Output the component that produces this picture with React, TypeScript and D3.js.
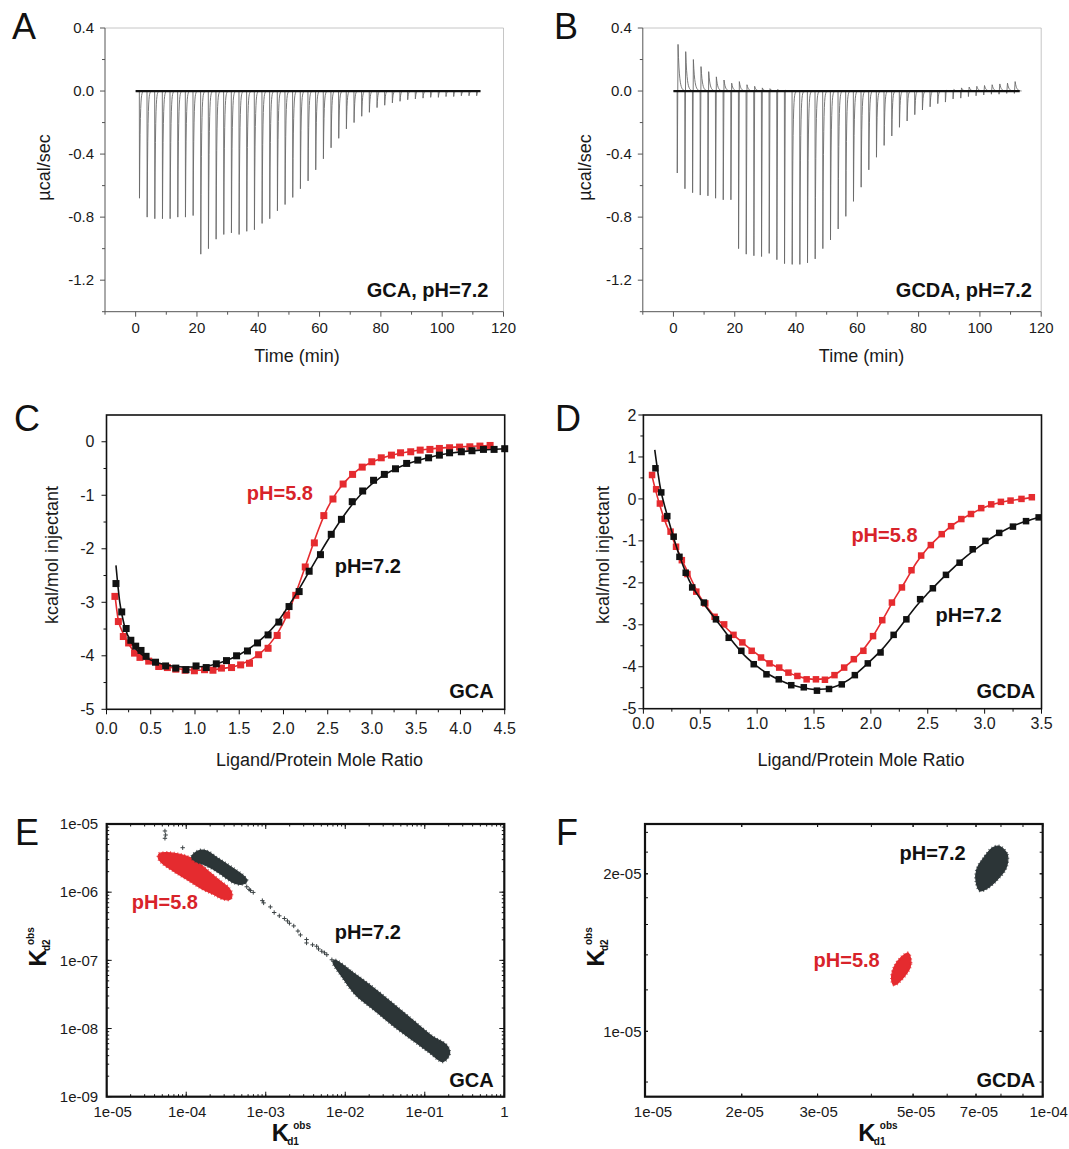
import React from "react";
import * as d3 from "d3";

const W = 1069;
const H = 1149;
const FONT = "'Liberation Sans', Arial, Helvetica, sans-serif";
const INK = "#1a1a1a";
const RED = "#e52b2f";
const RED_TXT = "#d8232a";
const CLOUD = "#2c3537";

// ---------------- A & B : raw ITC thermograms ----------------
const injectionTimes = [1.2, 3.7, 6.2, 8.7, 11.2, 13.7, 16.2, 18.7, 21.2, 23.7, 26.2, 28.7, 31.2, 33.7, 36.2, 38.7, 41.2, 43.7, 46.2, 48.7, 51.2, 53.7, 56.2, 58.7, 61.2, 63.7, 66.2, 68.7, 71.2, 73.7, 76.2, 78.7, 81.2, 83.7, 86.2, 88.7, 91.2, 93.7, 96.2, 98.7, 101.2, 103.7, 106.2, 108.7, 111.2];
const gcaPeaks = [-0.68, -0.8, -0.81, -0.81, -0.81, -0.8, -0.8, -0.79, -1.035, -1.0, -0.94, -0.91, -0.9, -0.91, -0.89, -0.88, -0.84, -0.81, -0.76, -0.72, -0.675, -0.62, -0.57, -0.5, -0.43, -0.36, -0.3, -0.24, -0.2, -0.16, -0.135, -0.105, -0.09, -0.075, -0.065, -0.055, -0.05, -0.045, -0.04, -0.04, -0.035, -0.035, -0.03, -0.03, -0.03];
const gcdaPeaks = [-0.52, -0.62, -0.645, -0.66, -0.665, -0.68, -0.69, -0.69, -1.0, -1.035, -1.045, -1.05, -1.03, -1.07, -1.095, -1.1, -1.1, -1.09, -1.065, -1.0, -0.945, -0.875, -0.795, -0.7, -0.61, -0.5, -0.42, -0.345, -0.285, -0.23, -0.19, -0.15, -0.12, -0.1, -0.08, -0.07, -0.05, -0.045, -0.035, -0.03, -0.025, -0.02, -0.02, -0.015, -0.015];
const gcdaOvershoot = [0.296, 0.25, 0.2, 0.155, 0.123, 0.09, 0.07, 0.05, 0.06, 0.04, 0.03, 0.02, 0.015, 0.01, 0.005, 0, 0, 0, 0, 0, 0, 0, 0, 0, 0, 0, 0, 0, 0, 0, 0, 0, 0, 0, 0, 0.005, 0.01, 0.02, 0.025, 0.03, 0.035, 0.04, 0.045, 0.05, 0.06];
const timeTicks = [0, 20, 40, 60, 80, 100, 120];
const timeMinor = [-10, 10, 30, 50, 70, 90, 110];
const rateTicks = [0.4, 0.0, -0.4, -0.8, -1.2];
const rateMinor = [0.2, -0.2, -0.6, -1.0, -1.4];

// ---------------- C : GCA integrated heats ----------------
const gcaRatio72 = [0.107, 0.172, 0.222, 0.275, 0.33, 0.39, 0.447, 0.554, 0.668, 0.783, 0.898, 1.012, 1.127, 1.241, 1.356, 1.47, 1.593, 1.707, 1.826, 1.948, 2.063, 2.177, 2.29, 2.418, 2.54, 2.655, 2.777, 2.895, 3.018, 3.14, 3.266, 3.392, 3.518, 3.64, 3.762, 3.877, 4.01, 4.13, 4.26, 4.38, 4.5];
const gcaHeat72 = [-2.65, -3.18, -3.49, -3.71, -3.82, -3.9, -4.01, -4.12, -4.19, -4.23, -4.26, -4.19, -4.22, -4.15, -4.09, -4.0, -3.91, -3.76, -3.61, -3.37, -3.08, -2.8, -2.42, -2.11, -1.73, -1.45, -1.12, -0.92, -0.72, -0.61, -0.505, -0.405, -0.343, -0.3, -0.25, -0.206, -0.187, -0.168, -0.143, -0.143, -0.13];
const gcaRatio58 = [0.095, 0.134, 0.19, 0.25, 0.317, 0.378, 0.477, 0.59, 0.688, 0.783, 0.888, 0.993, 1.108, 1.203, 1.299, 1.413, 1.516, 1.616, 1.719, 1.826, 1.929, 2.036, 2.139, 2.246, 2.349, 2.456, 2.559, 2.674, 2.781, 2.89, 2.998, 3.105, 3.22, 3.323, 3.438, 3.545, 3.655, 3.762, 3.877, 3.99, 4.106, 4.22, 4.335];
const gcaHeat58 = [-2.89, -3.36, -3.64, -3.76, -3.95, -4.03, -4.1, -4.2, -4.22, -4.25, -4.27, -4.28, -4.26, -4.27, -4.23, -4.22, -4.17, -4.14, -3.98, -3.86, -3.62, -3.24, -2.87, -2.34, -1.89, -1.38, -1.07, -0.79, -0.61, -0.474, -0.374, -0.3, -0.25, -0.206, -0.187, -0.156, -0.143, -0.125, -0.112, -0.1, -0.094, -0.081, -0.069];
const gcaFitRatio72 = [0.107, 0.15, 0.2, 0.3, 0.4, 0.5, 0.7, 0.9, 1.1, 1.3, 1.5, 1.7, 1.9, 2.1, 2.3, 2.5, 2.7, 2.9, 3.1, 3.3, 3.5, 3.7, 3.9, 4.1, 4.3, 4.5];
const gcaFitHeat72 = [-2.31, -3.0, -3.42, -3.8, -3.98, -4.08, -4.18, -4.21, -4.2, -4.12, -3.98, -3.76, -3.44, -2.96, -2.4, -1.84, -1.34, -0.94, -0.66, -0.48, -0.36, -0.27, -0.21, -0.17, -0.15, -0.13];
const gcaFitRatio58 = [0.095, 0.13, 0.2, 0.3, 0.4, 0.5, 0.7, 0.9, 1.1, 1.3, 1.5, 1.7, 1.8, 1.9, 2.0, 2.1, 2.2, 2.3, 2.4, 2.5, 2.6, 2.7, 2.8, 3.0, 3.2, 3.4, 3.6, 3.8, 4.0, 4.2, 4.335];
const gcaFitHeat58 = [-2.85, -3.3, -3.62, -3.9, -4.04, -4.12, -4.21, -4.26, -4.27, -4.24, -4.17, -4.0, -3.86, -3.66, -3.38, -3.0, -2.55, -2.08, -1.62, -1.23, -0.95, -0.74, -0.58, -0.38, -0.26, -0.19, -0.145, -0.115, -0.095, -0.08, -0.07];

// ---------------- D : GCDA integrated heats ----------------
const gcdaRatio72 = [0.106, 0.157, 0.21, 0.266, 0.317, 0.372, 0.429, 0.532, 0.638, 0.75, 0.861, 0.97, 1.082, 1.19, 1.3, 1.41, 1.526, 1.632, 1.744, 1.859, 1.973, 2.085, 2.2, 2.312, 2.433, 2.545, 2.66, 2.78, 2.895, 3.007, 3.128, 3.249, 3.364, 3.475];
const gcdaHeat72 = [0.73, 0.155, -0.41, -0.9, -1.38, -1.76, -2.11, -2.47, -2.87, -3.31, -3.62, -3.94, -4.18, -4.3, -4.44, -4.49, -4.57, -4.53, -4.42, -4.2, -3.92, -3.66, -3.24, -2.87, -2.39, -2.13, -1.81, -1.52, -1.2, -1.0, -0.81, -0.66, -0.53, -0.44];
const gcdaRatio58 = [0.076, 0.112, 0.145, 0.187, 0.239, 0.287, 0.338, 0.387, 0.465, 0.544, 0.626, 0.71, 0.792, 0.87, 0.952, 1.034, 1.109, 1.194, 1.275, 1.354, 1.435, 1.517, 1.596, 1.68, 1.765, 1.85, 1.934, 2.019, 2.1, 2.185, 2.273, 2.357, 2.442, 2.527, 2.623, 2.705, 2.795, 2.88, 2.97, 3.058, 3.143, 3.228, 3.324, 3.415];
const gcdaHeat58 = [0.57, 0.23, -0.11, -0.47, -0.78, -1.14, -1.46, -1.79, -2.21, -2.49, -2.81, -2.99, -3.24, -3.42, -3.62, -3.78, -3.92, -4.02, -4.14, -4.22, -4.3, -4.3, -4.31, -4.2, -4.02, -3.82, -3.62, -3.27, -2.89, -2.47, -2.11, -1.7, -1.35, -1.1, -0.84, -0.65, -0.48, -0.36, -0.22, -0.13, -0.07, -0.04, 0.0, 0.04];
const gcdaFitRatio72 = [0.1, 0.15, 0.2, 0.25, 0.3, 0.35, 0.4, 0.5, 0.6, 0.7, 0.8, 0.9, 1.0, 1.1, 1.2, 1.3, 1.4, 1.5, 1.6, 1.7, 1.8, 1.9, 2.0, 2.1, 2.2, 2.3, 2.4, 2.5, 2.6, 2.7, 2.8, 2.9, 3.0, 3.1, 3.2, 3.3, 3.4, 3.5];
const gcdaFitHeat72 = [1.17, 0.25, -0.3, -0.78, -1.22, -1.6, -1.93, -2.38, -2.75, -3.1, -3.45, -3.76, -3.99, -4.18, -4.32, -4.43, -4.5, -4.54, -4.53, -4.46, -4.32, -4.1, -3.85, -3.58, -3.25, -2.9, -2.55, -2.25, -1.97, -1.71, -1.46, -1.24, -1.04, -0.86, -0.71, -0.59, -0.5, -0.42];
const gcdaFitRatio58 = [0.076, 0.1, 0.15, 0.2, 0.25, 0.3, 0.35, 0.4, 0.5, 0.6, 0.7, 0.8, 0.9, 1.0, 1.1, 1.2, 1.3, 1.4, 1.5, 1.6, 1.7, 1.8, 1.9, 2.0, 2.1, 2.2, 2.3, 2.4, 2.5, 2.6, 2.7, 2.8, 2.9, 3.0, 3.1, 3.2, 3.3, 3.415];
const gcdaFitHeat58 = [0.55, 0.28, -0.2, -0.6, -0.9, -1.22, -1.52, -1.8, -2.34, -2.72, -3.0, -3.26, -3.49, -3.7, -3.9, -4.04, -4.17, -4.26, -4.3, -4.29, -4.16, -3.94, -3.69, -3.35, -2.9, -2.42, -1.98, -1.52, -1.17, -0.9, -0.66, -0.48, -0.33, -0.2, -0.11, -0.05, -0.01, 0.03];

// ---------------- E : GCA Kd1/Kd2 Monte-Carlo clouds ----------------
const gcaCloud58Kd1 = [4.57e-5, 5.67e-5, 8.35e-5, 1.117e-4, 1.494e-4, 2.0e-4, 2.67e-4, 3.4e-4, 3.75e-4, 3.57e-4, 2.94e-4, 2.2e-4, 1.494e-4, 1.015e-4, 6.87e-5, 4.9e-5, 4.44e-5];
const gcaCloud58Kd2 = [3.67e-6, 3.8e-6, 3.6e-6, 3.21e-6, 2.57e-6, 1.93e-6, 1.46e-6, 1.166e-6, 9.5e-7, 7.88e-7, 7.88e-7, 9.33e-7, 1.166e-6, 1.548e-6, 2.05e-6, 2.71e-6, 3.21e-6];
const gcaCloud72aKd1 = [1.229e-4, 1.494e-4, 1.815e-4, 2.43e-4, 3.25e-4, 4.34e-4, 5.26e-4, 5.81e-4, 5.02e-4, 3.93e-4, 2.94e-4, 2.2e-4, 1.644e-4, 1.292e-4, 1.173e-4];
const gcaCloud72aKd2 = [3.6e-6, 4.12e-6, 4.02e-6, 3.21e-6, 2.57e-6, 2.05e-6, 1.73e-6, 1.462e-6, 1.308e-6, 1.38e-6, 1.73e-6, 2.17e-6, 2.57e-6, 2.87e-6, 3.21e-6];
const gcaCloud72bKd1 = [7.36e-3, 1.202e-2, 2.163e-2, 3.89e-2, 6.99e-2, 0.1258, 0.1859, 0.2051, 0.169, 0.114, 7.71e-2, 4.28e-2, 2.385e-2, 1.326e-2, 8.94e-3, 7.01e-3];
const gcaCloud72bKd2 = [1.012e-7, 6.82e-8, 4.11e-8, 2.35e-8, 1.335e-8, 7.59e-9, 5.74e-9, 4.33e-9, 3.26e-9, 4.48e-9, 6.28e-9, 1.043e-8, 1.827e-8, 3.21e-8, 5.96e-8, 9.37e-8];
const gcaSparseKd1 = [5.4e-5, 5.51e-5, 5.4e-5, 9.03e-5, 5.77e-4, 6.2e-4, 6.43e-4, 6.97e-4, 9.06e-4, 9.41e-4, 1.143e-3, 1.277e-3, 1.481e-3, 1.717e-3, 1.874e-3, 1.986e-3, 2.25e-3, 2.54e-3, 2.73e-3, 3.26e-3, 3.26e-3, 3.88e-3, 4.37e-3, 4.61e-3, 5.06e-3, 5.49e-3, 5.86e-3, 6.79e-3];
const gcaSparseKd2 = [7.9e-6, 6.9e-6, 6.17e-6, 4.49e-6, 1.2e-6, 1.1e-6, 1.057e-6, 9.92e-7, 7.52e-7, 6.96e-7, 6.08e-7, 5.03e-7, 4.5e-7, 4.11e-7, 3.79e-7, 3.5e-7, 3.2e-7, 2.69e-7, 2.36e-7, 2.02e-7, 1.8e-7, 1.69e-7, 1.61e-7, 1.47e-7, 1.36e-7, 1.29e-7, 1.21e-7, 1.02e-7];
const eKd1Ticks = [1e-5, 1e-4, 1e-3, 1e-2, 1e-1, 1];
const eKd1Labels = ["1e-05", "1e-04", "1e-03", "1e-02", "1e-01", "1"];
const eKd2Ticks = [1e-5, 1e-6, 1e-7, 1e-8, 1e-9];
const eKd2Labels = ["1e-05", "1e-06", "1e-07", "1e-08", "1e-09"];

// ---------------- F : GCDA Kd1/Kd2 clouds ----------------
const gcdaCloud72Kd1 = [7.93e-5, 8.27e-5, 8.22e-5, 7.85e-5, 7.43e-5, 7.16e-5, 7.01e-5, 7.03e-5, 7.3e-5, 7.64e-5];
const gcdaCloud72Kd2 = [2.258e-5, 2.177e-5, 2.053e-5, 1.952e-5, 1.877e-5, 1.855e-5, 1.923e-5, 2.039e-5, 2.145e-5, 2.241e-5];
const gcdaCloud58Kd1 = [4.87e-5, 4.94e-5, 4.83e-5, 4.52e-5, 4.46e-5, 4.52e-5, 4.7e-5];
const gcdaCloud58Kd2 = [1.411e-5, 1.347e-5, 1.29e-5, 1.226e-5, 1.253e-5, 1.328e-5, 1.387e-5];
const fKd1Ticks = [1.192e-5, 2e-5, 3e-5, 5e-5, 7e-5, 1e-4];
const fKd1Labels = ["1e-05", "2e-05", "3e-05", "5e-05", "7e-05", "1e-04"];
const fKd2Ticks = [2e-5, 1e-5];
const fKd2Labels = ["2e-05", "1e-05"];

type Pt = [number, number];
const zip = (a: number[], b: number[]): Pt[] => a.map((v, i) => [v, b[i]]);

function thermogram(times: number[], peaks: number[], over?: number[]): Pt[] {
  const pts: Pt[] = [[0, 0]];
  times.forEach((t, i) => {
    const p = peaks[i];
    const q = over ? over[i] : 0;
    pts.push([t, 0]);
    pts.push([t + 0.05, p]);
    if (q > 0) {
      pts.push([t + 0.3, q]);
      for (let k = 1; k <= 14; k++) {
        const dt = k * 0.15;
        pts.push([t + 0.3 + dt, q * Math.exp(-dt / 0.45)]);
      }
    } else {
      for (let k = 1; k <= 12; k++) {
        const dt = k * 0.1;
        pts.push([t + 0.05 + dt, p * Math.exp(-dt / 0.22)]);
      }
    }
  });
  return pts;
}

function Letter({ x, y, c }: { x: number; y: number; c: string }) {
  return (
    <text x={x} y={y} fontSize={36} fill="#111">
      {c}
    </text>
  );
}

function RawPanel(p: any) {
  const x = d3.scaleLinear().domain([-10, 120]).range([p.left, p.right]);
  const y = d3.scaleLinear().domain([-1.4, 0.4]).range([p.bottom, p.top]);
  const pts = thermogram(injectionTimes, p.peaks, p.over);
  const line = d3.line<Pt>().x((d) => x(d[0])).y((d) => y(d[1]));
  const ax = "#555";
  return (
    <g>
      <line x1={p.left} x2={p.right} y1={p.top} y2={p.top} stroke="#b8b8b8" strokeWidth={0.8} />
      <line x1={p.right} x2={p.right} y1={p.top} y2={p.bottom} stroke="#b8b8b8" strokeWidth={0.8} />
      <line x1={p.left} x2={p.left} y1={p.top} y2={p.bottom} stroke={ax} strokeWidth={1} />
      <line x1={p.left} x2={p.right} y1={p.bottom} y2={p.bottom} stroke={ax} strokeWidth={1} />
      {rateTicks.map((v) => (
        <line key={"ry" + v} x1={p.left - 5} x2={p.left} y1={y(v)} y2={y(v)} stroke={ax} />
      ))}
      {rateMinor.map((v) => (
        <line key={"rm" + v} x1={p.left - 3} x2={p.left} y1={y(v)} y2={y(v)} stroke={ax} />
      ))}
      {timeTicks.map((v) => (
        <line key={"tx" + v} x1={x(v)} x2={x(v)} y1={p.bottom} y2={p.bottom + 5} stroke={ax} />
      ))}
      {timeMinor.map((v) => (
        <line key={"tm" + v} x1={x(v)} x2={x(v)} y1={p.bottom} y2={p.bottom + 3} stroke={ax} />
      ))}
      {rateTicks.map((v) => (
        <text key={"rl" + v} x={p.left - 11} y={y(v)} dy="0.35em" textAnchor="end" fontSize={15} fill={INK}>
          {v.toFixed(1)}
        </text>
      ))}
      {timeTicks.map((v) => (
        <text key={"tl" + v} x={x(v)} y={333} textAnchor="middle" fontSize={15} fill={INK}>
          {String(v)}
        </text>
      ))}
      <path d={line(pts) || ""} fill="none" stroke="#6a6a6a" strokeWidth={0.9} />
      <line x1={x(0)} x2={x(p.baseEnd)} y1={y(0)} y2={y(0)} stroke="#111" strokeWidth={2.2} />
      <text transform={`translate(${p.yTitleX},167.5) rotate(-90)`} textAnchor="middle" fontSize={18} fill={INK}>
        µcal/sec
      </text>
      <text x={p.xTitleX} y={362} textAnchor="middle" fontSize={18} fill={INK}>
        Time (min)
      </text>
      <text x={p.tagRight} y={296.5} textAnchor="end" fontSize={20} fontWeight="bold" fill="#111">
        {p.tag}
      </text>
    </g>
  );
}

function HeatPanel(p: any) {
  const x = d3.scaleLinear().domain(p.xDomain).range([p.left, p.right]);
  const y = d3.scaleLinear().domain(p.yDomain).range([p.bottom, p.top]);
  const line = d3
    .line<Pt>()
    .x((d) => x(d[0]))
    .y((d) => y(d[1]))
    .curve(d3.curveMonotoneX);
  const s = p.sq;
  const series = [
    { pts: zip(p.r58, p.h58), fit: zip(p.fr58, p.fh58), color: RED },
    { pts: zip(p.r72, p.h72), fit: zip(p.fr72, p.fh72), color: "#111" },
  ];
  return (
    <g>
      {p.yMajor.map((v: number) => (
        <line key={"ym" + v} x1={p.left - 5} x2={p.left} y1={y(v)} y2={y(v)} stroke="#111" />
      ))}
      {p.yMinor.map((v: number) => (
        <line key={"yn" + v} x1={p.left - 3} x2={p.left} y1={y(v)} y2={y(v)} stroke="#111" />
      ))}
      {p.xMajor.map((v: number) => (
        <line key={"xm" + v} x1={x(v)} x2={x(v)} y1={p.bottom} y2={p.bottom + 5} stroke="#111" />
      ))}
      {p.xMinor.map((v: number) => (
        <line key={"xn" + v} x1={x(v)} x2={x(v)} y1={p.bottom} y2={p.bottom + 3} stroke="#111" />
      ))}
      {p.yMajor.map((v: number) => (
        <text key={"yl" + v} x={p.left - p.yLabOff} y={y(v)} dy="0.35em" textAnchor="end" fontSize={16} fill={INK}>
          {String(v)}
        </text>
      ))}
      {p.xMajor.map((v: number) => (
        <text key={"xl" + v} x={x(v)} y={p.xLabY} textAnchor="middle" fontSize={16} fill={INK}>
          {v.toFixed(1)}
        </text>
      ))}
      {series.map((sr, i) => (
        <g key={"s" + i}>
          <path d={line(sr.fit) || ""} fill="none" stroke={sr.color} strokeWidth={1.6} />
          {sr.pts.map((d, j) => (
            <rect key={j} x={x(d[0]) - s / 2} y={y(d[1]) - s / 2} width={s} height={s} fill={sr.color} />
          ))}
        </g>
      ))}
      <rect x={p.left} y={p.top} width={p.right - p.left} height={p.bottom - p.top} fill="none" stroke="#111" strokeWidth={1.6} />
      <text transform={`translate(${p.yTitleX},555) rotate(-90)`} textAnchor="middle" fontSize={18} fill={INK}>
        kcal/mol injectant
      </text>
      <text x={p.xTitleX} y={766} textAnchor="middle" fontSize={18} fill={INK}>
        Ligand/Protein Mole Ratio
      </text>
      <text x={p.red.x} y={p.red.y} fontSize={20} fontWeight="bold" fill={RED_TXT}>
        pH=5.8
      </text>
      <text x={p.black.x} y={p.black.y} fontSize={20} fontWeight="bold" fill="#111">
        pH=7.2
      </text>
      <text x={p.tagRight} y={698} textAnchor="end" fontSize={20} fontWeight="bold" fill="#111">
        {p.tag}
      </text>
    </g>
  );
}

function KTitle({ x, y, sub, rotate }: { x: number; y: number; sub: string; rotate?: boolean }) {
  const tr = rotate ? `translate(${x},${y}) rotate(-90)` : `translate(${x},${y})`;
  return (
    <g transform={tr} fontWeight="bold" fill="#111">
      <text x={0} y={0} fontSize={24}>
        K
      </text>
      <text x={15.5} y={4} fontSize={10}>
        {sub}
      </text>
      <text x={21.5} y={-12} fontSize={10}>
        obs
      </text>
    </g>
  );
}

function LogPanel(p: any) {
  const x = d3.scaleLog().domain(p.xDomain).range([p.left, p.right]);
  const y = d3.scaleLog().domain(p.yDomain).range([p.bottom, p.top]);
  const cloudLine = d3
    .line<Pt>()
    .x((d) => x(d[0]))
    .y((d) => y(d[1]))
    .curve(d3.curveCatmullRomClosed.alpha(0.5));
  const xMinor = x.ticks();
  const yMinor = y.ticks();
  const ml = p.majorLen;
  const nl = p.minorLen;
  return (
    <g>
      {xMinor.map((v, i) => (
        <g key={"xm" + i}>
          <line x1={x(v)} x2={x(v)} y1={p.bottom} y2={p.bottom - nl} stroke="#111" />
          <line x1={x(v)} x2={x(v)} y1={p.top} y2={p.top + nl} stroke="#111" />
        </g>
      ))}
      {yMinor.map((v, i) => (
        <g key={"ym" + i}>
          <line x1={p.left} x2={p.left + nl} y1={y(v)} y2={y(v)} stroke="#111" />
          <line x1={p.right} x2={p.right - nl} y1={y(v)} y2={y(v)} stroke="#111" />
        </g>
      ))}
      {p.xTicks.map((v: number, i: number) => (
        <g key={"xM" + i}>
          <line x1={x(v)} x2={x(v)} y1={p.bottom} y2={p.bottom - ml} stroke="#111" />
          <line x1={x(v)} x2={x(v)} y1={p.top} y2={p.top + ml} stroke="#111" />
        </g>
      ))}
      {p.yTicks.map((v: number, i: number) => (
        <g key={"yM" + i}>
          <line x1={p.left} x2={p.left + ml} y1={y(v)} y2={y(v)} stroke="#111" />
          <line x1={p.right} x2={p.right - ml} y1={y(v)} y2={y(v)} stroke="#111" />
        </g>
      ))}
      {p.xTicks.map((v: number, i: number) => (
        <text key={"xl" + i} x={x(v) + p.xLabShift[i]} y={1117} textAnchor="middle" fontSize={15} fill={INK}>
          {p.xLabels[i]}
        </text>
      ))}
      {p.yTicks.map((v: number, i: number) => (
        <text key={"yl" + i} x={p.left - p.yLabOff} y={y(v)} dy="0.35em" textAnchor="end" fontSize={15} fill={INK}>
          {p.yLabels[i]}
        </text>
      ))}
      {p.clouds.map((c: any, i: number) => {
        const d = cloudLine(zip(c.kd1, c.kd2)) || "";
        return (
          <g key={"c" + i}>
            <path d={d} fill={c.color} stroke={c.color} strokeWidth={1.2} strokeLinejoin="round" />
            <path d={d} fill="none" stroke={c.color} strokeWidth={3} strokeDasharray="1 2.5" opacity={0.8} />
          </g>
        );
      })}
      {(p.sparse || []).map((d: Pt, i: number) => {
        const px = x(d[0]);
        const py = y(d[1]);
        return <path key={"sp" + i} d={`M${px - 2.2},${py}h4.4M${px},${py - 2.2}v4.4`} stroke="#3b4244" strokeWidth={1} />;
      })}
      <rect x={p.left} y={p.top} width={p.right - p.left} height={p.bottom - p.top} fill="none" stroke="#111" strokeWidth={2.2} />
      {p.texts.map((t: any, i: number) => (
        <text key={"t" + i} x={t.x} y={t.y} textAnchor={t.anchor || "start"} fontSize={20} fontWeight="bold" fill={t.color}>
          {t.s}
        </text>
      ))}
      <KTitle x={p.kx} y={1141} sub="d1" />
      <KTitle x={p.ky} y={966.5} sub="d2" rotate />
    </g>
  );
}

export default function App() {
  return (
    <svg
      width={W}
      height={H}
      viewBox={`0 0 ${W} ${H}`}
      style={{ position: "absolute", left: 0, top: 0, background: "#fff" }}
      fontFamily={FONT}
    >
      <rect width={W} height={H} fill="#fff" />
      <Letter x={12} y={39} c="A" />
      <Letter x={554} y={39} c="B" />
      <Letter x={14} y={431} c="C" />
      <Letter x={555} y={431} c="D" />
      <Letter x={15} y={845} c="E" />
      <Letter x={556} y={845} c="F" />

      <RawPanel left={105} right={503.5} top={28} bottom={311.7} peaks={gcaPeaks} baseEnd={112.5}
        yTitleX={50} xTitleX={297} tag="GCA, pH=7.2" tagRight={488.5} />
      <RawPanel left={642.8} right={1041.2} top={28} bottom={311.7} peaks={gcdaPeaks} over={gcdaOvershoot} baseEnd={113}
        yTitleX={590.5} xTitleX={861.5} tag="GCDA, pH=7.2" tagRight={1032} />

      <HeatPanel left={106.5} right={504.7} top={415} bottom={709.3} xDomain={[0, 4.5]} yDomain={[-5, 0.5]}
        xMajor={[0, 0.5, 1, 1.5, 2, 2.5, 3, 3.5, 4, 4.5]} xMinor={[0.25, 0.75, 1.25, 1.75, 2.25, 2.75, 3.25, 3.75, 4.25]}
        yMajor={[0, -1, -2, -3, -4, -5]} yMinor={[-0.5, -1.5, -2.5, -3.5, -4.5]}
        r72={gcaRatio72} h72={gcaHeat72} r58={gcaRatio58} h58={gcaHeat58}
        fr72={gcaFitRatio72} fh72={gcaFitHeat72} fr58={gcaFitRatio58} fh58={gcaFitHeat58}
        sq={7} yLabOff={12} xLabY={734} yTitleX={57.5} xTitleX={319.5}
        red={{ x: 246.8, y: 500 }} black={{ x: 334.7, y: 573 }} tag="GCA" tagRight={493.6} />
      <HeatPanel left={643.4} right={1041.5} top={415} bottom={708.7} xDomain={[0, 3.5]} yDomain={[-5, 2]}
        xMajor={[0, 0.5, 1, 1.5, 2, 2.5, 3, 3.5]} xMinor={[0.25, 0.75, 1.25, 1.75, 2.25, 2.75, 3.25]}
        yMajor={[2, 1, 0, -1, -2, -3, -4, -5]} yMinor={[1.5, 0.5, -0.5, -1.5, -2.5, -3.5, -4.5]}
        r72={gcdaRatio72} h72={gcdaHeat72} r58={gcdaRatio58} h58={gcdaHeat58}
        fr72={gcdaFitRatio72} fh72={gcdaFitHeat72} fr58={gcdaFitRatio58} fh58={gcdaFitHeat58}
        sq={6.5} yLabOff={7} xLabY={729} yTitleX={609} xTitleX={861}
        red={{ x: 851.4, y: 541.5 }} black={{ x: 935.6, y: 621.5 }} tag="GCDA" tagRight={1035.3} />

      <LogPanel left={106.7} right={504.3} top={824} bottom={1096.7} xDomain={[1e-5, 1]} yDomain={[1e-9, 1e-5]}
        xTicks={eKd1Ticks} xLabels={eKd1Labels} xLabShift={[6, 1, 0, 0, 0, 0]}
        yTicks={eKd2Ticks} yLabels={eKd2Labels} yLabOff={8.5} majorLen={5} minorLen={2.5}
        clouds={[
          { kd1: gcaCloud58Kd1, kd2: gcaCloud58Kd2, color: RED },
          { kd1: gcaCloud72aKd1, kd2: gcaCloud72aKd2, color: CLOUD },
          { kd1: gcaCloud72bKd1, kd2: gcaCloud72bKd2, color: CLOUD },
        ]}
        sparse={zip(gcaSparseKd1, gcaSparseKd2)}
        texts={[
          { s: "pH=5.8", x: 131.8, y: 909, color: RED_TXT },
          { s: "pH=7.2", x: 334.7, y: 939, color: "#111" },
          { s: "GCA", x: 493.6, y: 1087, color: "#111", anchor: "end" },
        ]}
        kx={271.7} ky={45.6} />
      <LogPanel left={645} right={1042.7} top={824} bottom={1096.7} xDomain={[1.192e-5, 1e-4]} yDomain={[7.5e-6, 2.49e-5]}
        xTicks={fKd1Ticks} xLabels={fKd1Labels} xLabShift={[8, 3, 1, 3, 3, 6]}
        yTicks={fKd2Ticks} yLabels={fKd2Labels} yLabOff={3.5} majorLen={3} minorLen={3}
        clouds={[
          { kd1: gcdaCloud58Kd1, kd2: gcdaCloud58Kd2, color: RED },
          { kd1: gcdaCloud72Kd1, kd2: gcdaCloud72Kd2, color: CLOUD },
        ]}
        texts={[
          { s: "pH=7.2", x: 899.5, y: 860, color: "#111" },
          { s: "pH=5.8", x: 813.6, y: 966.5, color: RED_TXT },
          { s: "GCDA", x: 1035.3, y: 1087, color: "#111", anchor: "end" },
        ]}
        kx={858.3} ky={604} />
    </svg>
  );
}
